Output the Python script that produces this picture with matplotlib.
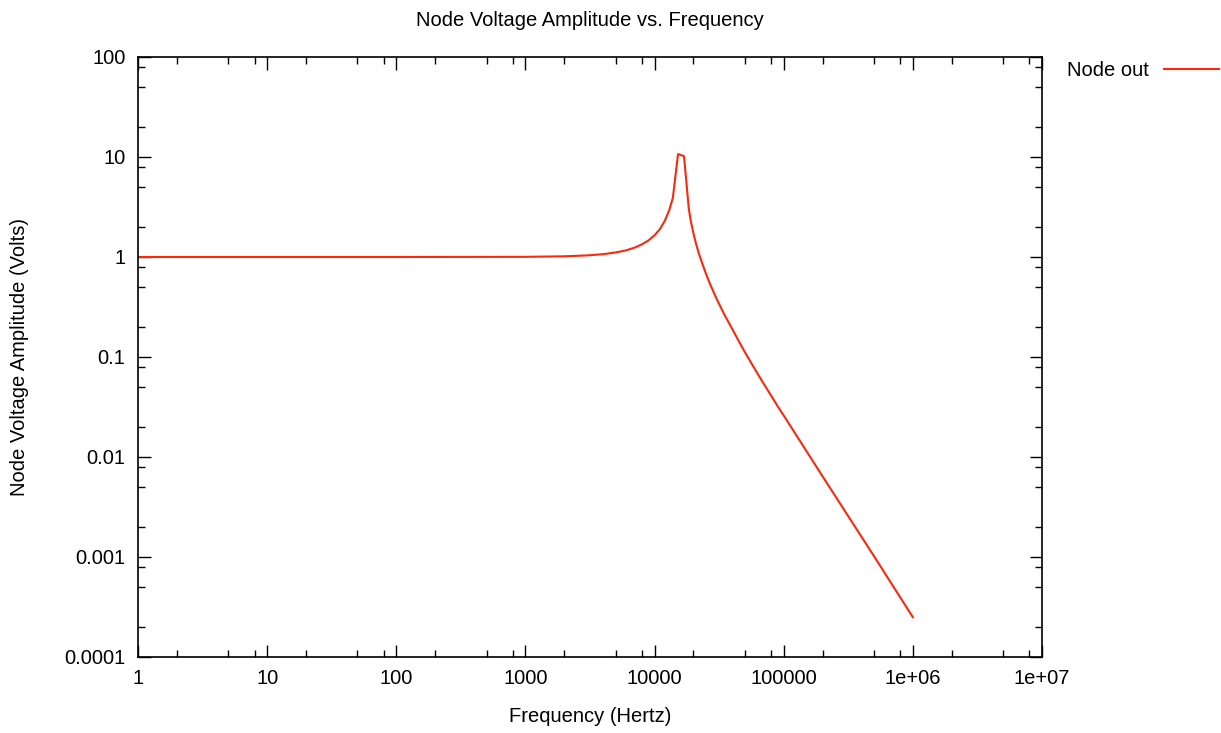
import numpy as np
import matplotlib
matplotlib.use("Agg")
import matplotlib.pyplot as plt
from matplotlib.ticker import FixedLocator, LogLocator, NullFormatter

# values (AC sweep of node "out")
freq_hz = [1, 10, 100, 1000, 2000, 3000, 4000, 5000, 6000, 7000, 8000,
           9000, 10000, 11000, 12000, 13000, 13850, 15200, 16900, 18400,
           19000, 20000, 21000, 22000, 23500, 25000, 27000, 30000, 32500,
           35000, 40000, 45000, 50000, 60000, 70000, 80000, 90000, 100000,
           200000, 500000, 1000000]
amp_volts = [1.0, 1.0, 1.0, 1.004, 1.016, 1.037, 1.067, 1.11, 1.165, 1.24,
             1.34, 1.47, 1.65, 1.9, 2.3, 2.95, 3.9, 10.7, 10.2, 3.05,
             2.35, 1.72, 1.34, 1.09, 0.85, 0.68, 0.53, 0.39, 0.315,
             0.26, 0.19, 0.143, 0.112, 0.075, 0.054, 0.041, 0.032, 0.026,
             0.0064, 0.00102, 0.00025]

x_ticks = [1, 10, 100, 1000, 10000, 100000, 1e6, 1e7]
x_labels = ["1", "10", "100", "1000", "10000", "100000", "1e+06", "1e+07"]
y_ticks = [1e-4, 1e-3, 1e-2, 1e-1, 1, 10, 100]
y_labels = ["0.0001", "0.001", "0.01", "0.1", "1", "10", "100"]

plt.rcParams["font.family"] = ["Liberation Sans", "DejaVu Sans"]
FS = 14.5

fig = plt.figure(figsize=(12.21, 7.33), dpi=100)
ax = fig.add_axes([138 / 1221, 1 - 657 / 733, (1042 - 138) / 1221, (657 - 57) / 733])

ax.plot(freq_hz, amp_volts, color="#f8290c", linewidth=1.5, label="Node out")
ax.set_xscale("log")
ax.set_yscale("log")
ax.set_xlim(1, 1e7)
ax.set_ylim(1e-4, 100)

ax.xaxis.set_major_locator(FixedLocator(x_ticks))
ax.set_xticklabels(x_labels)
ax.yaxis.set_major_locator(FixedLocator(y_ticks))
ax.set_yticklabels(y_labels)
ax.xaxis.set_minor_locator(LogLocator(base=10, subs=[2, 5, 8], numticks=20))
ax.yaxis.set_minor_locator(LogLocator(base=10, subs=[2, 5, 8], numticks=20))
ax.xaxis.set_minor_formatter(NullFormatter())
ax.yaxis.set_minor_formatter(NullFormatter())

ax.tick_params(which="both", direction="in", top=True, right=True,
               labelsize=FS, color="black")
ax.tick_params(which="major", length=9, width=1, pad=9)
ax.tick_params(which="minor", length=5, width=1)
for sp in ax.spines.values():
    sp.set_linewidth(1.2)

ax.set_xlabel("Frequency (Hertz)", fontsize=FS)
ax.set_ylabel("Node Voltage Amplitude (Volts)", fontsize=FS)
ax.xaxis.set_label_coords(0.5, (657 - 716) / 600, transform=ax.transAxes)
ax.xaxis.label.set_va("center")
ax.yaxis.set_label_coords((20 - 138) / 904, 0.5, transform=ax.transAxes)
ax.yaxis.label.set_va("center")
fig.text(590 / 1221, 1 - 20 / 733, "Node Voltage Amplitude vs. Frequency",
         ha="center", va="center", fontsize=FS)

ax.legend(loc="upper left", bbox_to_anchor=(1067 / 1221, 1 - 61 / 733),
          bbox_transform=fig.transFigure, frameon=False, markerfirst=False,
          handlelength=2.75, fontsize=FS, borderpad=0, handletextpad=0.75,
          borderaxespad=0)

fig.savefig("out.png", dpi=100)
